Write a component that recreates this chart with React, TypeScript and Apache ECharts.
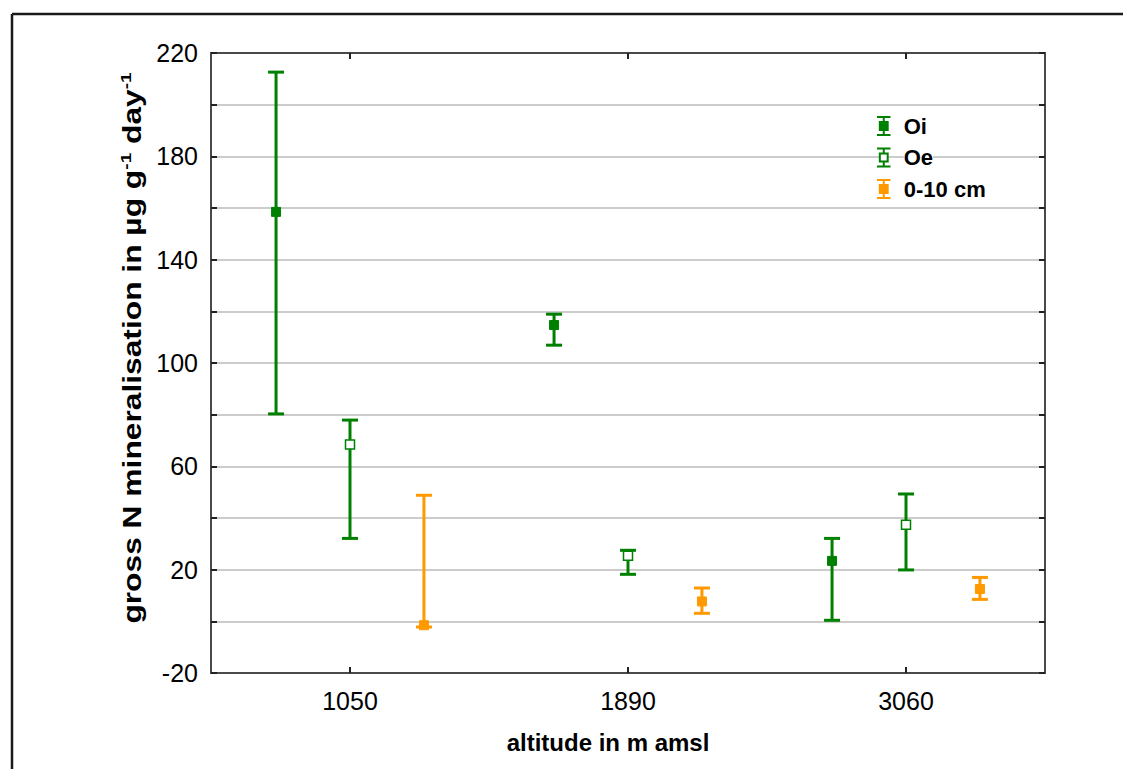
import React, { useEffect, useRef } from "react";
import * as echarts from "echarts";

const categories = ["1050", "1890", "3060"];

const oiMean = [158.5, 114.7, 23.4];
const oiLow = [80.3, 106.9, 0.4];
const oiHigh = [212.6, 118.9, 32.1];

const oeMean = [68.5, 25.4, 37.4];
const oeLow = [32.1, 18.2, 19.9];
const oeHigh = [77.9, 27.5, 49.3];

const soilMean = [-1.5, 7.7, 12.5];
const soilLow = [-2.2, 3.1, 8.5];
const soilHigh = [48.8, 12.9, 17.0];

const yMin = -20;
const yMax = 220;
const yStep = 20;

const yTitle = "{a|gross N mineralisation in µg g}{s|-1}{a| day}{s|-1}";
const xTitle = "altitude in m amsl";

const GREEN = "#008000";
const ORANGE = "#ff9900";
const FONT = "'Liberation Sans', Arial, sans-serif";

const ICON = "path://M0 1H12M6 1V5.5M2.5 5.5H9.5V12.5H2.5ZM6 12.5V17M0 17H12";

function rows(mean: number[], low: number[], high: number[]) {
  return mean.map((m, i) => [i, m, low[i], high[i]]);
}

function makeRender(offset: number, color: string, hollow: boolean) {
  return (params: any, api: any) => {
    const idx = api.value(0);
    const mean = api.value(1);
    const low = api.value(2);
    const high = api.value(3);
    const band = api.size([1, 0])[0];
    const pm = api.coord([idx, mean]);
    const cx = pm[0] + offset * band;
    const yM = pm[1];
    const yL = api.coord([idx, low])[1];
    const yH = api.coord([idx, high])[1];
    const capHalf = 8;
    const half = 4.5;
    const ls = { stroke: color, lineWidth: 3 };
    return {
      type: "group",
      children: [
        { type: "line", shape: { x1: cx, y1: yH, x2: cx, y2: yL }, style: ls },
        { type: "line", shape: { x1: cx - capHalf, y1: yH, x2: cx + capHalf, y2: yH }, style: ls },
        { type: "line", shape: { x1: cx - capHalf, y1: yL, x2: cx + capHalf, y2: yL }, style: ls },
        {
          type: "rect",
          shape: { x: cx - half, y: yM - half, width: half * 2, height: half * 2 },
          style: hollow
            ? { fill: "#ffffff", stroke: color, lineWidth: 1.5 }
            : { fill: color, stroke: color, lineWidth: 1 },
        },
      ],
    };
  };
}

export default function App() {
  const ref = useRef<HTMLDivElement>(null);

  useEffect(() => {
    document.body.style.margin = "0";
    const chart = echarts.init(ref.current!, null, { renderer: "svg" });
    const axisLine = { show: true, onZero: false, lineStyle: { color: "#4a4a4a", width: 2 } };
    const tick = { show: true, inside: true, length: 6, lineStyle: { color: "#222", width: 2 } };
    const option: any = {
      animation: false,
      backgroundColor: "#ffffff",
      grid: { left: 211, top: 53, right: 78, bottom: 96, containLabel: false },
      graphic: [
        { type: "line", shape: { x1: 12, y1: 14, x2: 1123, y2: 14 }, style: { stroke: "#1a1a1a", lineWidth: 2.5 } },
        { type: "line", shape: { x1: 12, y1: 14, x2: 12, y2: 769 }, style: { stroke: "#1a1a1a", lineWidth: 2.5 } },
        {
          type: "text",
          x: 132,
          y: 348,
          rotation: Math.PI / 2,
          scaleX: 1.27,
          style: {
            text: yTitle,
            align: "center",
            verticalAlign: "middle",
            rich: {
              a: { fontFamily: FONT, fontSize: 25, fontWeight: "bold", fill: "#000", lineHeight: 28 },
              s: { fontFamily: FONT, fontSize: 15, fontWeight: "bold", fill: "#000", lineHeight: 28, verticalAlign: "top", padding: [0, 0, 12, 0] },
            },
          },
        },
      ],
      legend: {
        orient: "vertical",
        left: 876,
        top: 115,
        itemWidth: 30,
        itemHeight: 18,
        itemGap: 9.5,
        padding: 0,
        symbolKeepAspect: true,
        textStyle: { fontFamily: FONT, fontSize: 22, fontWeight: "bold", color: "#000", lineHeight: 18 },
        data: [
          { name: "Oi", icon: ICON, itemStyle: { color: GREEN, borderColor: GREEN, borderWidth: 2 } },
          {
            name: "Oe",
            icon: ICON,
            itemStyle: { color: "#ffffff", borderColor: GREEN, borderWidth: 2 },
            textStyle: { backgroundColor: "#ffffff" },
          },
          { name: "0-10 cm", icon: ICON, itemStyle: { color: ORANGE, borderColor: ORANGE, borderWidth: 2 } },
        ],
      },
      xAxis: [
        {
          type: "category",
          data: categories,
          boundaryGap: true,
          position: "bottom",
          axisLine,
          axisTick: { ...tick, alignWithLabel: true },
          axisLabel: { fontFamily: FONT, fontSize: 25, color: "#000", margin: 15 },
          name: xTitle,
          nameLocation: "middle",
          nameGap: 57,
          nameTextStyle: { fontFamily: FONT, fontSize: 24, fontWeight: "bold", color: "#000", padding: [0, 40, 0, 0] },
          splitLine: { show: false },
        },
        {
          type: "category",
          data: categories,
          boundaryGap: true,
          position: "top",
          axisLine,
          axisTick: { ...tick, alignWithLabel: true },
          axisLabel: { show: false },
          splitLine: { show: false },
        },
      ],
      yAxis: [
        {
          type: "value",
          min: yMin,
          max: yMax,
          interval: yStep,
          position: "left",
          axisLine,
          axisTick: tick,
          axisLabel: {
            fontFamily: FONT,
            fontSize: 25,
            color: "#000",
            margin: 13,
            formatter: (v: number) => ((v - yMin) % (yStep * 2) === 0 ? String(v) : ""),
          },
          splitLine: { show: true, lineStyle: { color: "#cccccc", width: 2 } },
        },
        {
          type: "value",
          min: yMin,
          max: yMax,
          interval: yStep,
          position: "right",
          axisLine,
          axisTick: tick,
          axisLabel: { show: false },
          splitLine: { show: false },
        },
      ],
      series: [
        {
          name: "Oi",
          type: "custom",
          renderItem: makeRender(-0.266, GREEN, false),
          data: rows(oiMean, oiLow, oiHigh),
          encode: { x: 0, y: [1, 2, 3] },
          itemStyle: { color: GREEN, borderColor: GREEN, borderWidth: 2 },
          z: 3,
        },
        {
          name: "Oe",
          type: "custom",
          renderItem: makeRender(0, GREEN, true),
          data: rows(oeMean, oeLow, oeHigh),
          encode: { x: 0, y: [1, 2, 3] },
          itemStyle: { color: "#ffffff", borderColor: GREEN, borderWidth: 2 },
          z: 3,
        },
        {
          name: "0-10 cm",
          type: "custom",
          renderItem: makeRender(0.266, ORANGE, false),
          data: rows(soilMean, soilLow, soilHigh),
          encode: { x: 0, y: [1, 2, 3] },
          itemStyle: { color: ORANGE, borderColor: ORANGE, borderWidth: 2 },
          z: 3,
        },
      ],
    };
    chart.setOption(option);
    return () => chart.dispose();
  }, []);

  return <div ref={ref} style={{ width: 1123, height: 769 }} />;
}
